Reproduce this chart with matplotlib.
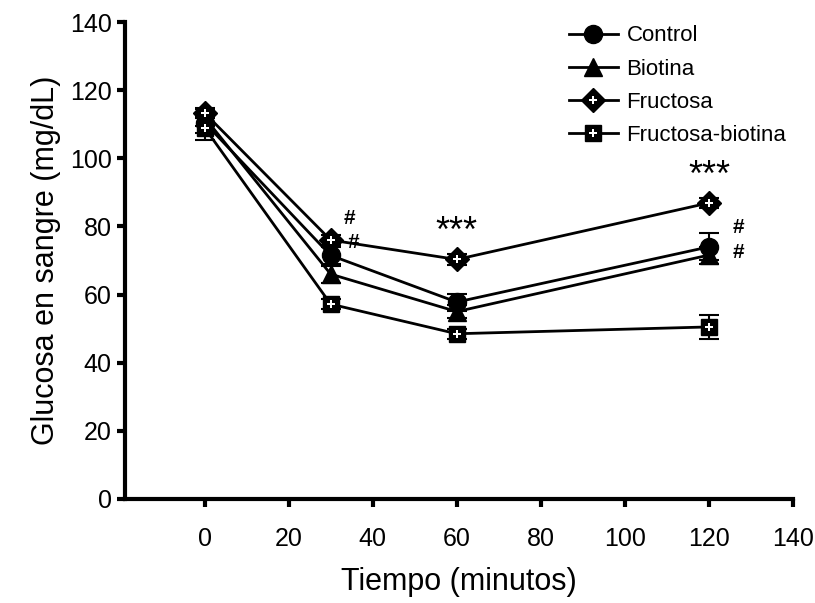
import numpy as np
import matplotlib
matplotlib.use('Agg')
from matplotlib import pyplot as plt

plt.rcParams['font.family'] = ['Liberation Sans', 'DejaVu Sans']

# data
tiempo = [0, 30, 60, 120]
series = ['Control', 'Biotina', 'Fructosa', 'Fructosa-biotina']
control = [110.5, 71.5, 57.8, 74.0]
control_err = [3.0, 2.5, 2.5, 4.0]
biotina = [112.0, 66.0, 55.0, 71.6]
biotina_err = [2.5, 2.5, 2.0, 2.5]
fructosa = [113.3, 76.0, 70.3, 86.9]
fructosa_err = [1.5, 1.5, 1.5, 1.5]
fruc_bio = [109.0, 57.2, 48.5, 50.5]
fruc_bio_err = [3.5, 1.5, 1.5, 3.5]

stars = [(60, 73.0), (120, 89.5)]
hashes = [(34.5, 79.5), (35.5, 72.5), (127, 77.0), (127, 69.5)]

fig = plt.figure(figsize=(8.15, 6.03), dpi=100)
ax = fig.add_axes([0.153, 0.1725, 0.82, 0.791])

markers = ['o', '^', 'D', 's']
sizes = [13, 13, 12, 12]
vals = [control, biotina, fructosa, fruc_bio]
errs = [control_err, biotina_err, fructosa_err, fruc_bio_err]
handles = []
for name, m, ms, v, e in zip(series, markers, sizes, vals, errs):
    ax.errorbar(tiempo, v, yerr=e, fmt='none', ecolor='black', elinewidth=1.5,
                capsize=7, capthick=1.5, zorder=2)
    ln, = ax.plot(tiempo, v, color='black', lw=2, marker=m, ms=ms,
                  mfc='black', mec='black', zorder=3)
    if m in ('D', 's'):
        pl, = ax.plot(tiempo, v, ls='none', marker='P', ms=5.5, mfc='white',
                      mec='white', mew=0, zorder=4)
        handles.append((ln, pl))
    else:
        handles.append(ln)

for x, y in stars:
    ax.text(x, y, '***', ha='center', va='bottom', fontsize=26)
for x, y in hashes:
    ax.text(x, y, '#', ha='center', va='bottom', fontsize=15, fontweight='bold')

ax.set_xlim(-19, 140)
ax.set_ylim(0, 140)
ax.set_xticks(np.arange(0, 141, 20))
ax.set_yticks(np.arange(0, 141, 20))
ax.spines['top'].set_visible(False)
ax.spines['right'].set_visible(False)
ax.spines['left'].set_linewidth(3)
ax.spines['bottom'].set_linewidth(3)
ax.tick_params(axis='both', width=3, length=6, labelsize=18, direction='out')
ax.tick_params(axis='x', pad=14)
ax.set_xlabel('Tiempo (minutos)', fontsize=22, labelpad=12)
ax.set_ylabel('Glucosa en sangre (mg/dL)', fontsize=22, labelpad=6)

ax.legend(handles, series, loc='upper right', bbox_to_anchor=(1.02, 1.035),
          frameon=False, fontsize=16, handlelength=2.2, handletextpad=0.4,
          labelspacing=0.55)

fig.savefig('out.png', dpi=100)
